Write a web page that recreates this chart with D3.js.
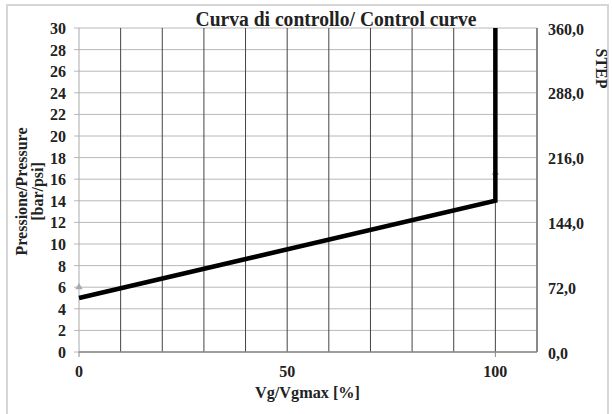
<!DOCTYPE html>
<html><head><meta charset="utf-8">
<script src="https://cdn.jsdelivr.net/npm/d3@7"></script>
<style>body{margin:0;background:#fff}svg{display:block}text{font-family:"Liberation Serif","Times New Roman",serif;font-weight:bold;fill:#222}</style>
</head><body><svg id="c" width="613" height="414"></svg>
<script>
const title = "Curva di controllo/ Control curve";
const xTitle = "Vg/Vgmax [%]";
const yTitleLines = ["Pressione/Pressure", "[bar/psi]"];
const y2Title = "STEP";
const curveX = [0, 100, 100];
const curveY = [5, 14, 30];
const markerX = [0, 100];
const markerY = [6, 16.6];
const xTickLabels = [0, 50, 100];
const xGrid = [10,20,30,40,50,60,70,80,90,100];
const yTicks = [0,2,4,6,8,10,12,14,16,18,20,22,24,26,28,30];
const y2Ticks = [0,72,144,216,288,360];

const svg = d3.select("#c");
const L = 79, R = 537, T = 28, B = 352;
const x = d3.scaleLinear().domain([0,110]).range([L,R]);
const y = d3.scaleLinear().domain([0,30]).range([B,T]);
const y2 = d3.scaleLinear().domain([0,360]).range([B,T]);

// outer border
svg.append("rect").attr("x",7).attr("y",5).attr("width",601).attr("height",412)
  .attr("fill","none").attr("stroke","#d6d6d6").attr("stroke-width",2);

// horizontal grid
svg.append("g").selectAll("line").data(yTicks).join("line")
  .attr("x1",L-5).attr("x2",R).attr("y1",d=>y(d)).attr("y2",d=>y(d))
  .attr("stroke","#b8b8b8").attr("stroke-width",1);
// vertical grid
svg.append("g").selectAll("line").data(xGrid).join("line")
  .attr("x1",d=>x(d)).attr("x2",d=>x(d)).attr("y1",T).attr("y2",B)
  .attr("stroke","#444").attr("stroke-width",1);
// x ticks below
svg.append("g").selectAll("line").data([0,100]).join("line")
  .attr("x1",d=>x(d)).attr("x2",d=>x(d)).attr("y1",B).attr("y2",B+5)
  .attr("stroke","#888");
// left axis line
svg.append("line").attr("x1",L).attr("x2",L).attr("y1",T).attr("y2",B).attr("stroke","#aaa");
// right border
svg.append("line").attr("x1",R).attr("x2",R).attr("y1",T).attr("y2",B).attr("stroke","#888").attr("stroke-width",2);
// bottom axis line
svg.append("line").attr("x1",L).attr("x2",R).attr("y1",B).attr("y2",B).attr("stroke","#888").attr("stroke-width",1.5);

// y tick labels
svg.append("g").selectAll("text").data(yTicks).join("text")
  .attr("x",66).attr("y",d=>y(d)+6).attr("text-anchor","end").attr("font-size",16).text(d=>d);
// y2 labels
svg.append("g").selectAll("text").data(y2Ticks).join("text")
  .attr("x",548).attr("y",d=>y2(d)+6.5).attr("text-anchor","start").attr("font-size",16)
  .text(d=>d3.format(".1f")(d).replace(".",","));
// x labels
svg.append("g").selectAll("text").data(xTickLabels).join("text")
  .attr("x",d=>x(d)).attr("y",B+25).attr("text-anchor","middle").attr("font-size",16).text(d=>d);

// markers
svg.append("g").selectAll("path").data(markerX.map((d,i)=>[d,markerY[i]])).join("path")
  .attr("d",d3.symbol(d3.symbolTriangle,24))
  .attr("transform",d=>`translate(${x(d[0])},${y(d[1])})`).attr("fill","#aaa");

// curve
const line = d3.line().x(d=>x(d[0])).y(d=>y(d[1]));
svg.append("path").datum(curveX.map((d,i)=>[d,curveY[i]])).attr("d",line)
  .attr("fill","none").attr("stroke","#000").attr("stroke-width",4.5).attr("stroke-linejoin","miter");

// titles
svg.append("text").attr("x",336).attr("y",26).attr("text-anchor","middle").attr("font-size",20)
  .attr("textLength",281).attr("lengthAdjust","spacingAndGlyphs").text(title);
svg.append("text").attr("x",307.5).attr("y",398).attr("text-anchor","middle").attr("font-size",16)
  .attr("textLength",105).attr("lengthAdjust","spacingAndGlyphs").text(xTitle);
const yt = svg.append("text").attr("transform","translate(27,191.5) rotate(-90)").attr("text-anchor","middle").attr("font-size",16);
yt.append("tspan").attr("x",0).attr("dy",0).text(yTitleLines[0]);
yt.append("tspan").attr("x",0).attr("dy",16).text(yTitleLines[1]);
svg.append("text").attr("transform","translate(596,68.5) rotate(90)").attr("text-anchor","middle").attr("font-size",16).text(y2Title);
</script></body></html>
